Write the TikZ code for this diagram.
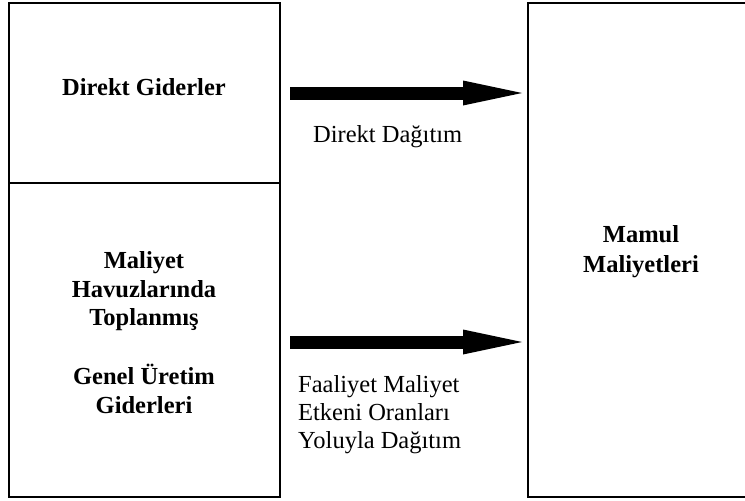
\documentclass[tikz,border=0pt]{standalone}
\usepackage{fontspec}
\setmainfont{Liberation Serif}
\usetikzlibrary{arrows.meta}
\begin{document}
\begin{tikzpicture}[x=1pt,y=-1pt,
  box/.style={draw=black, line width=1.5pt, inner sep=0pt, outer sep=0pt, anchor=north west},
  bigarrow/.style={line width=13pt, -{Triangle[length=59pt,width=25pt,line width=0pt]}, shorten <=10pt, shorten >=6pt},
  plain/.style={inner sep=0pt, anchor=base, font=\fontsize{24.5}{28.5}\selectfont},
  bold/.style={plain, font=\fontsize{24.5}{28.5}\selectfont\bfseries},
  leftlab/.style={plain, anchor=base west}]
\useasboundingbox (0,0) rectangle (745,501);
\node[box, minimum width=271pt, minimum height=180pt] (direct) at (9,3) {};
\node[box, minimum width=271pt, minimum height=314pt] (overhead) at (9,183) {};
\node[box, minimum width=240pt, minimum height=494pt] (product) at (528,3) {};

\node[bold] (t1) at (144,95) {Direkt Giderler};
\node[bold] (t2) at (144,268) {Maliyet};
\node[bold] (t3) at (144,297) {Havuzlarında};
\node[bold] (t4) at (144,325) {Toplanmış};
\node[bold] (t5) at (144,384) {Genel Üretim};
\node[bold] (t6) at (144,413) {Giderleri};
\node[bold] (m1) at (641,242) {Mamul};
\node[bold] (m2) at (641,272) {Maliyetleri};

\draw[bigarrow] (direct.east) -- (direct.east -| product.west);
\draw[bigarrow] ([yshift=-2pt]overhead.east) -- ([yshift=-2pt]overhead.east -| product.west);

\node[leftlab] (l1) at (313,142) {Direkt Dağıtım};
\node[leftlab] (l2) at (298,392) {Faaliyet Maliyet};
\node[leftlab] (l3) at (298,420) {Etkeni Oranları};
\node[leftlab] (l4) at (298,448) {Yoluyla Dağıtım};
\end{tikzpicture}
\end{document}
